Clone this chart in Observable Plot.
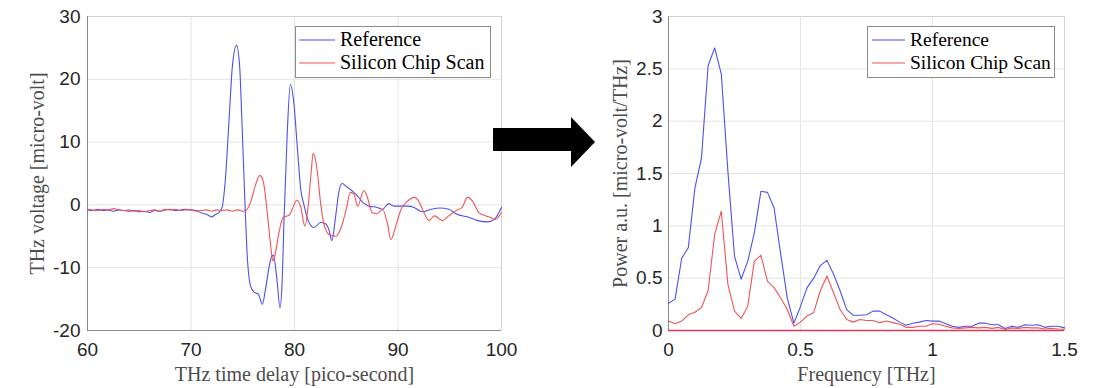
<!DOCTYPE html>
<html>
<head>
<meta charset="utf-8">
<script src="https://cdn.jsdelivr.net/npm/d3@7"></script>
<script src="https://cdn.jsdelivr.net/npm/@observablehq/plot@0.6"></script>
<style>
  html, body { margin: 0; padding: 0; background: #fff; }
  #root { position: relative; width: 1115px; height: 388px; overflow: hidden; background: #fff; }
  .panel { position: absolute; top: 0; }
  .overlay { position: absolute; top: 0; left: 0; }
</style>
</head>
<body>
<div id="root"></div>
<script>
// ---------- Data ----------
const seriesNames = ["Reference", "Silicon Chip Scan"];

// Time domain (pico-second, micro-volt)
const refTime = [60, 60.5, 61, 61.5, 62, 62.5, 63, 63.5, 64, 64.5, 65, 65.5, 66, 66.5, 67, 67.5, 68, 68.5, 69, 69.5, 70, 70.5, 71, 71.5, 72, 72.3, 72.7, 73.0, 73.3, 73.7, 74.0, 74.4, 74.7, 74.9, 75.2, 75.4, 75.75, 76.1, 76.5, 76.9, 77.2, 77.7, 77.95, 78.3, 78.6, 78.8, 79.0, 79.3, 79.6, 79.9, 80.3, 80.6, 80.9, 81.4, 81.9, 82.5, 83.0, 83.35, 83.6, 84.0, 84.3, 84.6, 85.1, 85.6, 86.1, 86.6, 87.2, 88.0, 88.5, 89.1, 89.6, 90.3, 90.9, 91.55, 92.35, 93.2, 94.1, 94.9, 95.7, 96.7, 97.7, 98.7, 99.3, 100];
const refVolt = [-0.8, -0.9, -0.7, -0.9, -0.8, -1.0, -0.8, -0.9, -1.0, -0.9, -1.1, -1.0, -1.2, -0.9, -1.0, -0.8, -0.7, -0.9, -0.8, -0.7, -0.8, -0.9, -1.3, -1.5, -1.9, -1.6, -1.2, -0.4, 3.6, 14.2, 22.1, 25.4, 22.1, 14.2, 0.9, -7.1, -12.9, -13.9, -14.2, -15.8, -13.4, -8.7, -8.0, -11.8, -16.4, -12.4, -1.75, 11.5, 19.2, 16.8, 8.6, 2.5, 0.1, -2.8, -3.6, -2.8, -3.0, -4.1, -5.7, -1.5, 2.2, 3.4, 2.8, 2.2, 1.4, 0.4, -0.2, -0.4, -0.7, 0.2, -0.2, -0.2, -0.2, -0.4, -1.1, -0.7, -0.5, -0.7, -1.5, -1.9, -2.5, -2.7, -2.3, -0.4];

const chipTime = [60, 60.5, 61, 61.5, 62, 62.5, 63, 63.5, 64, 64.5, 65, 65.5, 66, 66.5, 67, 67.5, 68, 68.5, 69, 69.5, 70, 70.5, 71, 71.5, 72, 72.5, 73, 73.5, 74, 74.5, 75, 75.3, 75.75, 76.2, 76.65, 77.0, 77.4, 77.7, 77.9, 78.1, 78.5, 78.9, 79.5, 79.9, 80.2, 80.6, 81.0, 81.3, 81.6, 81.8, 82.2, 82.5, 82.85, 83.35, 84.0, 84.5, 85.0, 85.4, 85.75, 86.1, 86.7, 87.0, 87.5, 88.0, 88.5, 89.0, 89.3, 89.8, 90.3, 90.8, 91.6, 92.0, 92.5, 93.0, 93.5, 94.3, 94.9, 95.55, 96.2, 96.7, 97.2, 97.8, 98.5, 98.95, 99.4, 100];
const chipVolt = [-0.7, -0.8, -0.9, -0.7, -0.8, -0.6, -0.8, -0.9, -0.8, -1.0, -0.9, -1.1, -0.9, -0.8, -1.0, -0.7, -0.8, -0.7, -0.9, -0.8, -0.8, -1.0, -0.9, -0.8, -1.0, -0.8, -0.9, -0.8, -1.0, -0.8, -1.0, -0.9, 0.4, 3.0, 4.7, 3.6, -1.75, -6.5, -8.9, -8.1, -4.4, -2.0, -1.6, -0.2, 0.75, -0.3, -3.4, -0.5, 5.0, 8.2, 5.4, 0.6, -3.1, -4.7, -5.0, -3.6, -0.7, 2.0, 1.7, -0.2, 2.3, 1.4, -1.2, -1.4, -0.7, -3.1, -5.5, -3.3, -0.7, 0.4, 1.2, 0.6, -1.2, -2.5, -1.75, -2.5, -1.75, -0.95, -0.4, 1.2, 0.6, -1.2, -1.75, -2.0, -2.3, -1.2];

// Frequency domain (THz, power a.u.)
const freq = [0, 0.025, 0.05, 0.075, 0.1, 0.125, 0.15, 0.175, 0.2, 0.225, 0.25, 0.275, 0.3, 0.325, 0.35, 0.375, 0.4, 0.425, 0.45, 0.475, 0.5, 0.525, 0.55, 0.575, 0.6, 0.625, 0.65, 0.675, 0.7, 0.725, 0.75, 0.775, 0.8, 0.825, 0.85, 0.875, 0.9, 0.925, 0.95, 0.975, 1.0, 1.025, 1.05, 1.075, 1.1, 1.125, 1.15, 1.175, 1.2, 1.225, 1.25, 1.275, 1.3, 1.325, 1.35, 1.375, 1.4, 1.425, 1.45, 1.475, 1.5];
const refPower = [0.26, 0.30, 0.69, 0.79, 1.36, 1.65, 2.53, 2.70, 2.45, 1.52, 0.71, 0.49, 0.66, 0.93, 1.33, 1.32, 1.17, 0.73, 0.31, 0.07, 0.23, 0.41, 0.50, 0.62, 0.67, 0.54, 0.38, 0.20, 0.145, 0.145, 0.15, 0.185, 0.185, 0.15, 0.12, 0.08, 0.05, 0.07, 0.08, 0.095, 0.09, 0.09, 0.065, 0.04, 0.03, 0.04, 0.04, 0.07, 0.07, 0.055, 0.055, 0.02, 0.04, 0.03, 0.055, 0.05, 0.055, 0.03, 0.04, 0.04, 0.025];
const chipPower = [0.09, 0.065, 0.09, 0.15, 0.175, 0.22, 0.38, 0.92, 1.14, 0.44, 0.185, 0.115, 0.23, 0.66, 0.72, 0.47, 0.41, 0.31, 0.20, 0.04, 0.08, 0.14, 0.17, 0.38, 0.52, 0.36, 0.2, 0.105, 0.08, 0.105, 0.095, 0.095, 0.075, 0.09, 0.075, 0.06, 0.03, 0.03, 0.04, 0.04, 0.065, 0.06, 0.04, 0.025, 0.02, 0.025, 0.03, 0.025, 0.03, 0.02, 0.03, 0.01, 0.025, 0.02, 0.03, 0.025, 0.025, 0.015, 0.02, 0.015, 0.012];

// Ticks and labels
const timeTicks = [60, 70, 80, 90, 100];
const voltTicks = [-20, -10, 0, 10, 20, 30];
const freqTicks = [0, 0.5, 1, 1.5];
const powerTicks = [0, 0.5, 1, 1.5, 2, 2.5, 3];
const timeLabel = "THz time delay [pico-second]";
const voltLabel = "THz voltage [micro-volt]";
const freqLabel = "Frequency [THz]";
const powerLabel = "Power a.u. [micro-volt/THz]";

// ---------- Style ----------
const SANS = "'Liberation Sans', Arial, Helvetica, sans-serif";
const SERIF = "'Liberation Serif', 'Times New Roman', serif";
const BLUE = "#4f4ff0";
const RED = "#f05555";
const GRID = "#e4e4e4";
const AXIS = "#8a8a8a";
const BOX = "#d2d2d2";
const TICKTXT = "#262626";
const LABELTXT = "#4d4d4d";

const refTD = refTime.map((t, i) => ({t, v: refVolt[i]}));
const chipTD = chipTime.map((t, i) => ({t, v: chipVolt[i]}));
const refFD = freq.map((f, i) => ({f, p: refPower[i]}));
const chipFD = freq.map((f, i) => ({f, p: chipPower[i]}));

const fmt = d => String(d);

function panel({width, marginLeft, marginRight, xDomain, yDomain, xTicks, yTicks, yPad, xLabel, yLabel, yLabelDx, lines, extra}) {
  return Plot.plot({
    width, height: 388,
    marginLeft, marginRight, marginTop: 16, marginBottom: 58,
    style: {fontFamily: SANS, fontSize: "19px", color: TICKTXT, background: "transparent", overflow: "visible"},
    x: {domain: xDomain},
    y: {domain: yDomain},
    marks: [
      Plot.gridX(xTicks, {stroke: GRID, strokeOpacity: 1}),
      Plot.gridY(yTicks, {stroke: GRID, strokeOpacity: 1}),
      Plot.ruleX([xDomain[1]], {stroke: BOX}),
      Plot.ruleY([yDomain[1]], {stroke: BOX}),
      Plot.ruleX([xDomain[0]], {stroke: AXIS}),
      Plot.ruleY([yDomain[0]], {stroke: AXIS}),
      Plot.axisX({ticks: xTicks, tickSize: 0, tickPadding: 12, tickFormat: fmt, label: null, fill: TICKTXT}),
      Plot.axisY({ticks: yTicks, tickSize: 0, tickPadding: yPad, tickFormat: fmt, label: null, fill: TICKTXT}),
      ...lines,
      ...(extra || []),
      Plot.text([xLabel], {frameAnchor: "bottom", dy: 50, lineAnchor: "bottom", textAnchor: "middle", fontFamily: SERIF, fontSize: 20, fill: LABELTXT}),
      Plot.text([yLabel], {frameAnchor: "left", dx: yLabelDx, rotate: -90, lineAnchor: "bottom", textAnchor: "middle", fontFamily: SERIF, fontSize: 20, fill: LABELTXT})
    ]
  });
}

const left = panel({
  width: 520, marginLeft: 87, marginRight: 19,
  xDomain: [60, 100], yDomain: [-20, 30],
  xTicks: timeTicks, yTicks: voltTicks, yPad: 7,
  xLabel: timeLabel, yLabel: voltLabel, yLabelDx: -44,
  lines: [
    Plot.line(refTD, {x: "t", y: "v", stroke: BLUE, strokeWidth: 1.1, curve: "monotone-x"}),
    Plot.line(chipTD, {x: "t", y: "v", stroke: RED, strokeWidth: 1.1, curve: "monotone-x"})
  ]
});

const right = panel({
  width: 545, marginLeft: 98, marginRight: 51,
  xDomain: [0, 1.5], yDomain: [0, 3],
  xTicks: freqTicks, yTicks: powerTicks, yPad: 6,
  xLabel: freqLabel, yLabel: powerLabel, yLabelDx: -42,
  lines: [
    Plot.line(refFD, {x: "f", y: "p", stroke: BLUE, strokeWidth: 1.1}),
    Plot.line(chipFD, {x: "f", y: "p", stroke: RED, strokeWidth: 1.1})
  ],
  extra: [Plot.ruleY([0], {stroke: "#d23c62", strokeWidth: 1.6})]
});

const root = document.getElementById("root");
left.classList.add("panel"); left.style.left = "0px";
right.classList.add("panel"); right.style.left = "570px";
root.appendChild(left);
root.appendChild(right);

// ---------- Overlay: arrow and legends ----------
const NS = "http://www.w3.org/2000/svg";
const ov = document.createElementNS(NS, "svg");
ov.setAttribute("width", 1115); ov.setAttribute("height", 388);
ov.setAttribute("class", "overlay");
root.appendChild(ov);

function el(tag, attrs, text) {
  const e = document.createElementNS(NS, tag);
  for (const k in attrs) e.setAttribute(k, attrs[k]);
  if (text != null) e.textContent = text;
  ov.appendChild(e);
  return e;
}

// arrow between the panels
el("polygon", {points: "493,128 571,128 571,117 595,142 571,167 571,151 493,151", fill: "#000"});

function legend(x0, y0, w, h, lineX1, lineX2, textX, fontSize) {
  el("rect", {x: x0 + 0.5, y: y0 + 0.5, width: w, height: h, fill: "#fff", stroke: "#8c8c8c", "stroke-width": 1});
  const colors = [BLUE, RED];
  const ys = [40, 63];
  const bases = [46, 69];
  seriesNames.forEach((name, i) => {
    el("line", {x1: lineX1, x2: lineX2, y1: ys[i], y2: ys[i], stroke: colors[i], "stroke-width": 1.1});
    el("text", {x: textX, y: bases[i], "font-family": SERIF, "font-size": fontSize, fill: "#000"}, name);
  });
}
legend(295, 26, 195, 51, 299, 335, 340, 20);
legend(867, 26, 187, 51, 872, 905, 910, 19.5);
</script>
</body>
</html>
